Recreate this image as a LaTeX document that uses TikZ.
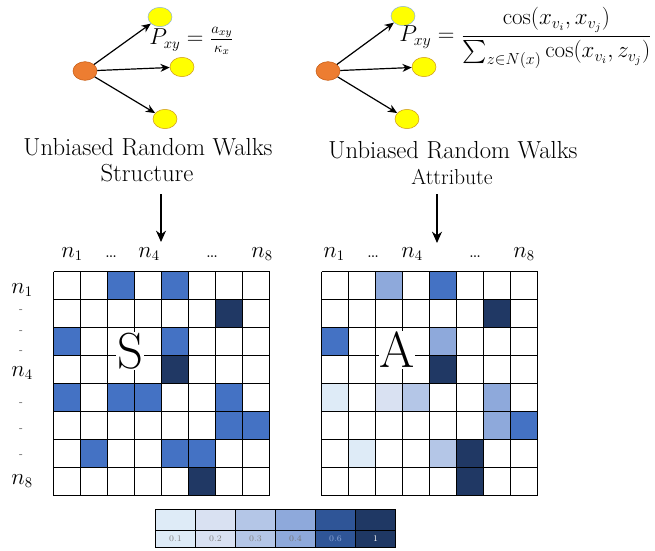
\documentclass[tikz,border=0pt]{standalone}
\usepackage{amsmath}
\usetikzlibrary{shapes, arrows, arrows.meta}
\definecolor{wlkorange}{HTML}{ED7D31}
\definecolor{wlkorangeb}{HTML}{C55A11}
\definecolor{wlkyellow}{HTML}{FFFF00}
\definecolor{wlkyellowb}{HTML}{D09A20}
\definecolor{wlkblueb}{HTML}{8FB4D8}
\definecolor{cmid}{HTML}{4472C4}
\definecolor{cdark}{HTML}{203864}
\definecolor{cv1}{HTML}{DEEBF7}
\definecolor{cv2}{HTML}{D9E1F2}
\definecolor{cv3}{HTML}{B4C6E7}
\definecolor{cv4}{HTML}{8EA9DB}
\definecolor{cv6}{HTML}{2F5597}
\definecolor{cv10}{HTML}{1F3864}
\tikzstyle{start} = [ellipse, minimum width=18pt, minimum height=14pt, inner sep=0pt, draw=wlkorangeb, fill=wlkorange]
\tikzstyle{target} = [ellipse, minimum width=18pt, minimum height=14.5pt, inner sep=0pt, draw=wlkyellowb, fill=wlkyellow]
\tikzstyle{edge} = [line width=0.9pt, -{Stealth[length=7pt, width=6pt]}]
\tikzstyle{bigedge} = [line width=1pt, -{Stealth[length=8.5pt, width=7.5pt]}]
\tikzstyle{caption} = [font=\fontsize{18.5}{22}\selectfont, inner sep=0pt]
\tikzstyle{formula} = [font=\fontsize{16}{18}\selectfont, anchor=west, inner sep=0pt]
\tikzstyle{index} = [font=\fontsize{16}{18}\selectfont, anchor=base, inner sep=0pt]
\tikzstyle{rowtick} = [font=\fontsize{8}{9}\selectfont, text=black!70, inner sep=0pt]
\tikzstyle{letter} = [font=\fontsize{38}{40}\selectfont, fill=white, inner sep=0.5pt]
\tikzstyle{cell} = [draw=black, line width=1.1pt]
\tikzstyle{barlabel} = [font=\fontsize{6.5}{7}\selectfont, inner sep=0pt]

\begin{document}
\begin{tikzpicture}[x=0.75pt, y=-0.75pt]
\useasboundingbox (0,0) rectangle (655,550);

% random walk sketches
\node (o1) [start] at (85,71) {};
\node (y1) [target, draw=wlkblueb] at (160,17) {};
\node (y2) [target] at (182,67) {};
\node (y3) [target] at (165,119) {};
\node (o2) [start] at (328,71) {};
\node (y4) [target, draw=wlkblueb] at (403,16) {};
\node (y5) [target] at (424,67) {};
\node (y6) [target] at (407,119) {};

\draw [edge] (o1) -- (y1);
\draw [edge] (o1) -- (y2);
\draw [edge] (o1) -- (y3);
\draw [edge] (o2) -- (y4);
\draw [edge] (o2) -- (y5);
\draw [edge] (o2) -- (y6);

\node (f1) [formula] at (149,41) {$P_{xy}=\frac{a_{xy}}{\kappa_x}$};
\node (f2) [formula, font=\fontsize{17}{19}\selectfont] at (399,38) {$P_{xy}=\dfrac{\cos(x_{v_i},x_{v_j})}{\sum_{z\in N(x)}\cos(x_{v_i},z_{v_j})}$};

\node (t1) [caption] at (148,147) {Unbiased Random Walks};
\node (t2) [caption] at (147,173) {Structure};
\node (t3) [caption] at (453,150) {Unbiased Random Walks};
\node (t4) [caption, font=\fontsize{16.2}{19}\selectfont] at (452,177) {Attribute};

\coordinate (s1) at (161,242);
\coordinate (a1) at (437,243);
\draw [bigedge, shorten <=9pt] (t2.south -| s1) -- (s1);
\draw [bigedge, shorten <=7pt] (t4.south -| a1) -- (a1);

% matrices
\foreach \c/\r/\k in {2/0/cmid,4/0/cmid,0/2/cmid,4/2/cmid,0/4/cmid,2/4/cmid,3/4/cmid,6/4/cmid,6/5/cmid,7/5/cmid,1/6/cmid,4/6/cmid,5/6/cmid,6/1/cdark,4/3/cdark,5/7/cdark}
  \fill[\k] ({53.5+27*\c},{271.5+28*\r}) rectangle +(27,28);
\foreach \c/\r/\k in {0/4/cv1,1/6/cv1,2/4/cv2,3/4/cv3,4/6/cv3,2/0/cv4,4/2/cv4,6/4/cv4,6/5/cv4,4/0/cmid,0/2/cmid,7/5/cmid,6/1/cdark,4/3/cdark,5/6/cdark,5/7/cdark}
  \fill[\k] ({321.5+27*\c},{271.5+28*\r}) rectangle +(27,28);
\foreach \x in {53.5,321.5}
  \foreach \i in {0,...,8}
  {
    \draw[cell] ({\x+27*\i},271.5) -- ({\x+27*\i},495.5);
    \draw[cell] (\x,{271.5+28*\i}) -- ({\x+216},{271.5+28*\i});
  }

\node (S) [letter] at (130,351) {S};
\node (A) [letter] at (397,350) {A};

% axis labels
\foreach \x/\t [count=\i] in {72/$n_1$,111/\ldots,149/$n_4$,212/\ldots,262/$n_8$,334/$n_1$,373/\ldots,412/$n_4$,475/\ldots,524/$n_8$}
  \node (cl\i) [index] at (\x,257) {\t};
\foreach \y/\t [count=\i] in {293/1,376/4,484/8}
  \node (rn\i) [index] at (22,\y) {$n_{\t}$};
\foreach \y [count=\i] in {311,332,352,404,430,456}
  \node (rd\i) [rowtick] at (21,\y) {-};

% colour scale
\foreach \k/\t/\tc [count=\i from 0] in {cv1/0.1/black!50,cv2/0.2/black!50,cv3/0.3/black!50,cv4/0.4/black!55,cv6/0.6/cv4,cv10/1/white}
{
  \fill[\k] ({155.5+40*\i},509.5) rectangle +(40,38);
  \draw[cell] ({155.5+40*\i},509.5) rectangle +(40,21);
  \draw[cell] ({155.5+40*\i},530.5) rectangle +(40,17);
  \node (cb\i) [barlabel, text=\tc] at ({175.5+40*\i},539) {\t};
}

\end{tikzpicture}
\end{document}
